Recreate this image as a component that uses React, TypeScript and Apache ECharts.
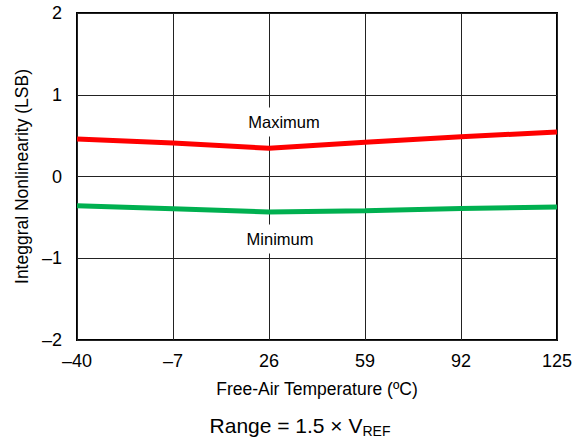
import React, { useEffect, useRef } from "react";
import * as echarts from "echarts";

const temperatures = ["-40", "-7", "26", "59", "92", "125"];
const maximumINL = [0.46, 0.41, 0.345, 0.42, 0.485, 0.545];
const minimumINL = [-0.357, -0.394, -0.434, -0.418, -0.39, -0.373];

const dash = (v: string | number) => String(v).replace("-", "\u2013");

export default function App() {
  const ref = useRef<HTMLDivElement>(null);
  useEffect(() => {
    const chart = echarts.init(ref.current!, null, { renderer: "svg" });
    const font = "Liberation Sans";
    chart.setOption({
      animation: false,
      textStyle: { fontFamily: font },
      grid: {
        left: 77,
        right: 25,
        top: 13,
        bottom: 103,
        show: true,
        borderColor: "#000",
        borderWidth: 2,
      },
      xAxis: {
        type: "category",
        data: temperatures,
        boundaryGap: false,
        axisLine: { show: false },
        axisTick: { show: false },
        axisLabel: {
          color: "#000",
          fontSize: 18,
          margin: 12,
          fontFamily: font,
          formatter: (v: string) => dash(v),
        },
        splitLine: { show: true, lineStyle: { color: "#222", width: 1 } },
        name: "Free-Air Temperature (\u00baC)",
        nameLocation: "middle",
        nameGap: 40,
        nameTextStyle: { color: "#000", fontSize: 17.5, fontFamily: font },
      },
      yAxis: {
        type: "value",
        min: -2,
        max: 2,
        interval: 1,
        axisLine: { show: false },
        axisTick: { show: false },
        axisLabel: {
          color: "#000",
          fontSize: 18,
          margin: 15,
          fontFamily: font,
          formatter: (v: number) => dash(v),
        },
        splitLine: { show: true, lineStyle: { color: "#222", width: 1 } },
        name: "Integgral Nonlinearity (LSB)",
        nameLocation: "middle",
        nameGap: 43,
        nameTextStyle: { color: "#000", fontSize: 17.5, fontFamily: font },
      },
      series: [
        {
          type: "line",
          data: maximumINL,
          symbol: "none",
          lineStyle: { color: "#ff0000", width: 5 },
          z: 3,
        },
        {
          type: "line",
          data: minimumINL,
          symbol: "none",
          lineStyle: { color: "#00b050", width: 5 },
          z: 3,
        },
      ],
      graphic: [
        {
          type: "text",
          x: 284,
          y: 122,
          z: 10,
          style: {
            text: "Maximum",
            fill: "#000",
            font: `16.5px ${font}`,
            align: "center",
            verticalAlign: "middle",
            backgroundColor: "#fff",
            padding: [6, 4],
          },
        },
        {
          type: "text",
          x: 280,
          y: 239,
          z: 10,
          style: {
            text: "Minimum",
            fill: "#000",
            font: `16.5px ${font}`,
            align: "center",
            verticalAlign: "middle",
            backgroundColor: "#fff",
            padding: [6, 4],
          },
        },
        {
          type: "text",
          x: 300,
          y: 425,
          style: {
            text: "{a|Range = 1.5 \u00d7 V}{b|REF}",
            align: "center",
            verticalAlign: "middle",
            rich: {
              a: { fontSize: 21, fontFamily: font, color: "#000" },
              b: {
                fontSize: 14,
                fontFamily: font,
                color: "#000",
                padding: [12, 0, 0, 0],
              },
            },
          },
        },
      ],
    });
    return () => chart.dispose();
  }, []);
  return <div ref={ref} style={{ width: 582, height: 443, position: "absolute", left: 0, top: 0 }} />;
}
